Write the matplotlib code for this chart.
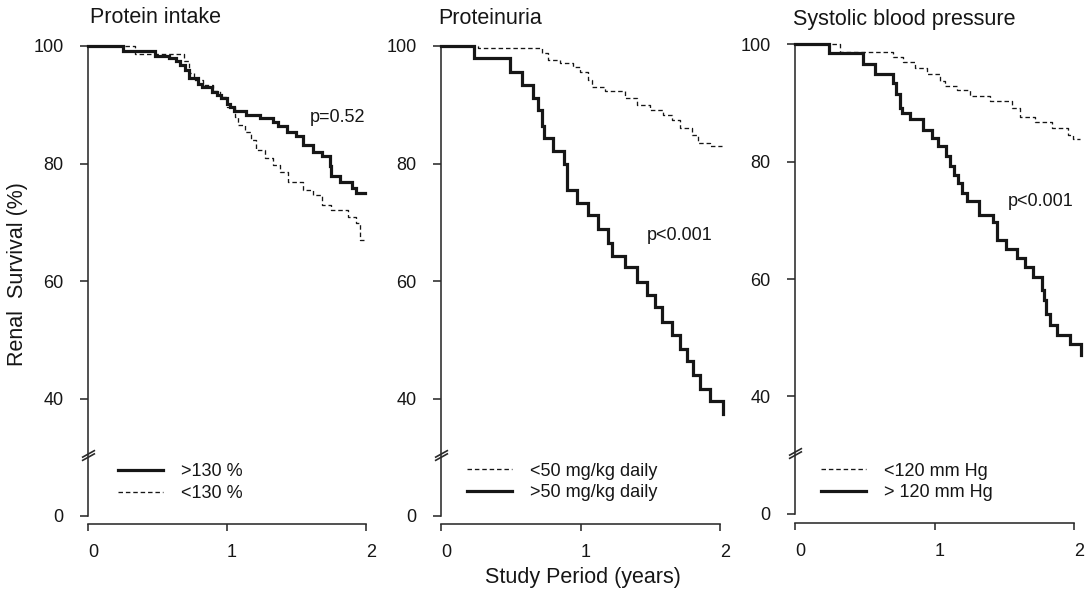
import numpy as np
import matplotlib
matplotlib.use('Agg')
import matplotlib.pyplot as plt
from matplotlib.transforms import ScaledTranslation
from matplotlib.path import Path

plt.rcParams['font.family'] = ['Liberation Sans', 'DejaVu Sans']

# ---------------- data ----------------
titles = ['Protein intake', 'Proteinuria', 'Systolic blood pressure']
p_values = ['p=0.52', 'p<0.001', 'p<0.001']

# Panel 1: protein intake
pi_hi_x = [0, 0.25, 0.48, 0.58, 0.63, 0.66, 0.70, 0.73, 0.79, 0.82, 0.89, 0.93, 0.96, 1.00, 1.02,
           1.05, 1.14, 1.24, 1.33, 1.37, 1.43, 1.50, 1.55, 1.62, 1.68, 1.74, 1.75, 1.81, 1.90, 1.93, 1.99]
pi_hi_y = [100, 99.1, 98.3, 97.9, 97.5, 96.8, 95.9, 94.5, 93.6, 93.1, 92.2, 91.7, 91.1, 90.2, 89.7,
           89.0, 88.3, 87.7, 87.1, 86.3, 85.4, 84.6, 83.1, 82.0, 81.2, 79.5, 77.8, 76.9, 75.8, 75.0, 75.0]
pi_lo_x = [0, 0.34, 0.69, 0.73, 0.76, 0.83, 0.90, 0.95, 1.00, 1.06, 1.08, 1.13, 1.17, 1.21, 1.27,
           1.33, 1.38, 1.44, 1.55, 1.62, 1.68, 1.75, 1.87, 1.93, 1.96, 2.00]
pi_lo_y = [100, 98.7, 97.4, 95.4, 94.2, 93.3, 92.3, 91.3, 89.6, 88.0, 86.6, 85.4, 84.0, 82.3, 80.9,
           79.7, 78.6, 76.9, 75.5, 74.6, 72.9, 72.1, 70.9, 69.8, 67.0, 67.0]

# Panel 2: proteinuria
pu_lo_x = [0, 0.268, 0.722, 0.769, 0.853, 0.949, 0.996, 1.056, 1.080, 1.176, 1.319, 1.403, 1.498,
           1.594, 1.654, 1.713, 1.797, 1.845, 1.928, 2.012]
pu_lo_y = [100, 99.6, 98.8, 97.6, 97.1, 96.5, 95.6, 94.2, 93.1, 92.4, 91.1, 90.0, 89.1,
           88.3, 87.4, 86.0, 84.9, 83.5, 82.9, 82.9]
pu_hi_x = [0, 0.237, 0.495, 0.578, 0.662, 0.693, 0.722, 0.741, 0.805, 0.884, 0.901, 0.976, 1.056,
           1.123, 1.200, 1.224, 1.319, 1.403, 1.480, 1.534, 1.582, 1.654, 1.713, 1.761, 1.809, 1.857,
           1.928, 2.019]
pu_hi_y = [100, 97.9, 95.6, 93.4, 91.1, 89.1, 86.3, 84.3, 82.2, 80.0, 75.5, 73.3, 71.2,
           68.8, 66.4, 64.3, 62.3, 59.9, 57.6, 55.6, 53.1, 50.8, 48.5, 46.3, 44.0, 41.7,
           39.5, 37.4]

# Panel 3: systolic blood pressure
bp_lo_x = [0, 0.323, 0.705, 0.777, 0.860, 0.944, 1.039, 1.075, 1.159, 1.254, 1.398, 1.553, 1.613,
           1.720, 1.840, 1.959, 1.995, 2.043]
bp_lo_y = [100, 98.7, 97.9, 97.1, 96.0, 94.9, 93.7, 92.9, 92.2, 91.2, 90.3, 89.2, 87.7,
           86.7, 85.8, 84.6, 83.8, 83.8]
bp_hi_x = [0, 0.244, 0.490, 0.573, 0.705, 0.724, 0.753, 0.765, 0.824, 0.915, 0.980, 1.027, 1.082,
           1.111, 1.140, 1.171, 1.195, 1.231, 1.321, 1.417, 1.446, 1.513, 1.594, 1.649, 1.708,
           1.768, 1.785, 1.800, 1.828, 1.876, 1.971, 2.048]
bp_hi_y = [100, 98.6, 96.6, 95.0, 93.5, 91.5, 89.2, 88.3, 87.3, 85.5, 84.1, 82.7, 80.9,
           79.2, 77.8, 76.4, 74.6, 73.3, 70.9, 69.8, 66.7, 65.1, 63.5, 62.1, 60.3,
           58.1, 56.4, 54.1, 52.1, 50.4, 48.9, 47.0]

y_ticks = [0, 40, 60, 80, 100]
x_ticks = [0, 1, 2]
BREAK_AT = 30.4

# series per panel: (x, y, label, style) in legend order
series = [
    [(pi_hi_x, pi_hi_y, '>130 %', 'solid'), (pi_lo_x, pi_lo_y, '<130 %', 'dash')],
    [(pu_lo_x, pu_lo_y, '<50 mg/kg daily', 'dash'), (pu_hi_x, pu_hi_y, '>50 mg/kg daily', 'solid')],
    [(bp_lo_x, bp_lo_y, '<120 mm Hg', 'dash'), (bp_hi_x, bp_hi_y, '> 120 mm Hg', 'solid')],
]

# ---------------- layout (pixels) ----------------
W, H = 1087, 592
XMAX = 2.07
layout = [
    dict(x0=88, unit=139.0, top=46, bot=516, xaxis=524, tx=90, ty=23, px=310, py=118, lx=118, ly=463.5),
    dict(x0=441, unit=139.5, top=46, bot=516, xaxis=524, tx=438, ty=24, px=647, py=235, lx=467, ly=462.5),
    dict(x0=795, unit=139.5, top=44.5, bot=513.5, xaxis=523, tx=793, ty=25, px=1008, py=202, lx=821, ly=462.5),
]

INK = '#161616'
AXC = '#2a2a2a'


# broken axis: linear above 30, compressed below (0 sits 20 units under 40)
def fwd(y):
    y = np.asarray(y, dtype=float)
    return np.where(y >= 30, y, 20 + y / 3.0)


def inv(t):
    t = np.asarray(t, dtype=float)
    return np.where(t >= 30, t, (t - 20) * 3.0)


fig = plt.figure(figsize=(W / 100, H / 100), dpi=100)

break_path = Path([(-6.5, -5.2), (6.5, 2.0), (-6.5, -2.0), (6.5, 5.2)],
                  [Path.MOVETO, Path.LINETO, Path.MOVETO, Path.LINETO])

for i, (lay, ser) in enumerate(zip(layout, series)):
    left = lay['x0'] / W
    width = lay['unit'] * XMAX / W
    bottom = 1 - lay['bot'] / H
    height = (lay['bot'] - lay['top']) / H
    ax = fig.add_axes([left, bottom, width, height])
    ax.set_yscale('function', functions=(fwd, inv))
    ax.set_ylim(0, 100)
    ax.set_xlim(0, XMAX)

    handles = []
    for xs, ys, lab, sty in ser:
        if sty == 'solid':
            h, = ax.step(xs, ys, where='post', color=INK, lw=2.3, label=lab,
                         solid_joinstyle='miter', clip_on=False, zorder=3)
        else:
            h, = ax.step(xs, ys, where='post', color=INK, lw=0.95, label=lab,
                         linestyle=(0, (3.4, 2.2)), clip_on=False, zorder=3)
        handles.append(h)

    for s in ['top', 'right']:
        ax.spines[s].set_visible(False)
    for s in ['left', 'bottom']:
        ax.spines[s].set_color(AXC)
        ax.spines[s].set_linewidth(1.15)
    ax.spines['bottom'].set_position(('outward', (lay['xaxis'] - lay['bot']) * 0.72))
    ax.spines['bottom'].set_bounds(0, 2)
    ax.spines['left'].set_bounds(0, 100)

    ax.set_yticks(y_ticks)
    ax.set_yticklabels([str(v) for v in y_ticks])
    ax.yaxis.set_minor_locator(matplotlib.ticker.NullLocator())
    ax.set_xticks(x_ticks)
    ax.set_xticklabels([str(v) for v in x_ticks])
    ax.tick_params(axis='y', direction='out', length=5.5, width=1.15, color=AXC,
                   pad=12, labelsize=13, labelcolor=INK)
    ax.tick_params(axis='x', direction='out', length=5.0, width=1.15, color=AXC,
                   pad=9.5, labelsize=13, labelcolor=INK)
    for lbl in ax.get_xticklabels():
        lbl.set_transform(lbl.get_transform() + ScaledTranslation(5 / 100, 0, fig.dpi_scale_trans))

    # axis break mark
    ax.plot([0], [BREAK_AT], marker=break_path, markersize=9.4, color=AXC,
            markeredgewidth=1.2, linestyle='none', clip_on=False, zorder=4)

    leg = ax.legend(handles=handles, loc='upper left',
                    bbox_to_anchor=(lay['lx'] / W, 1 - lay['ly'] / H),
                    bbox_transform=fig.transFigure, frameon=False, fontsize=13,
                    handlelength=2.5, handletextpad=1.0, labelspacing=0.25,
                    borderpad=0, borderaxespad=0)
    for t in leg.get_texts():
        t.set_color(INK)

    fig.text(lay['tx'] / W, 1 - lay['ty'] / H, titles[i], ha='left', va='baseline',
             fontsize=15.5, color=INK)
    fig.text(lay['px'] / W, 1 - lay['py'] / H, p_values[i], ha='left', va='center',
             fontsize=13, color=INK)

fig.text(18 / W, 1 - 274 / H, 'Renal  Survival (%)', rotation=90, ha='center', va='center',
         fontsize=15.5, color=INK)
fig.text(583 / W, 1 - 577 / H, 'Study Period (years)', ha='center', va='center',
         fontsize=15.5, color=INK)

fig.savefig('out.png', dpi=100, facecolor='white')
